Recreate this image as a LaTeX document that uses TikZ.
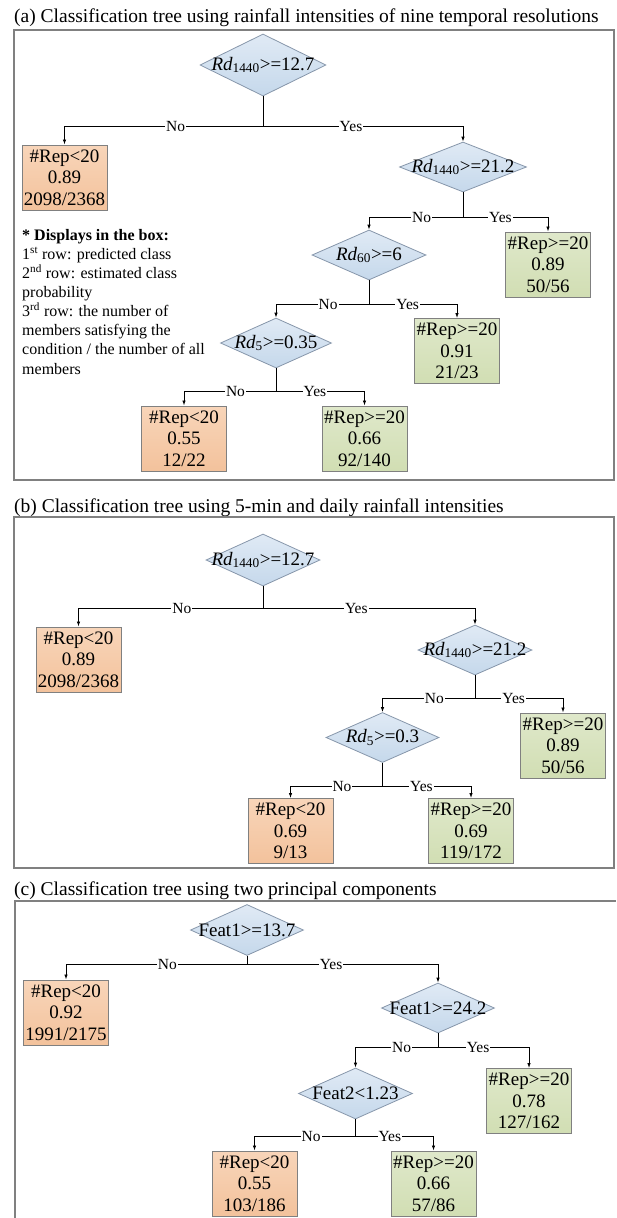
\documentclass[tikz,border=0pt]{standalone}
\usepackage{fontspec}
\setmainfont{Liberation Serif}
\usetikzlibrary{shapes.geometric,arrows.meta}

\definecolor{condtop}{HTML}{E0EAF5}
\definecolor{condbot}{HTML}{C5D8EB}
\definecolor{condline}{HTML}{8696AA}
\definecolor{lowtop}{HTML}{F8D5B9}
\definecolor{lowbot}{HTML}{F3C29C}
\definecolor{hightop}{HTML}{DFE8CA}
\definecolor{highbot}{HTML}{D1DEB3}
\definecolor{boxline}{HTML}{808080}

\begin{document}
\begin{tikzpicture}[x=1pt, y=-1pt,
			% Define styles for nodes
			cond/.style={diamond, aspect=2, draw=condline, line width=0.8pt, top color=condtop, bottom color=condbot,
					minimum width=#1, minimum height=50pt, inner sep=0pt, font=\fontsize{19}{21}\selectfont},
			leaf/.style={rectangle, draw=boxline, line width=1pt, minimum width=85pt, minimum height=65pt,
					inner sep=0pt, align=center, font=\fontsize{19}{21.5}\selectfont},
			low/.style={leaf, top color=lowtop, bottom color=lowbot},
			high/.style={leaf, top color=hightop, bottom color=highbot},
			frame/.style={draw=boxline, line width=1.3pt},
			title/.style={anchor=base west, inner sep=0pt, font=\fontsize{19.5}{22}\selectfont},
			stem/.style={draw, line width=1pt},
			branch/.style={draw, line width=0.8pt, -{Latex[length=5pt,width=3.5pt]}},
			lab/.style={fill=white, inner sep=1pt, pos=0.22, font=\fontsize{15.5}{17}\selectfont}
		]
		\useasboundingbox (0,0) rectangle (616,1218);

		% ---------- (a) ----------
		\node[title] (titleA) at (14,22.5) {(a) Classification tree using rainfall intensities of nine temporal resolutions};
		\draw[frame] (14,30) rectangle (614,480);

		% Root node
		\node[cond=126pt, minimum height=62pt] (rootA) at (263,65) {\makebox[0pt]{\textit{Rd}\textsubscript{1440}>=12.7}};
		% First level
		\node[low] (leafA1) at (64.5,177.5) {\#Rep<20\\0.89\\2098/2368};
		\node[cond=127pt] (splitA1) at (463,167) {\makebox[0pt]{\textit{Rd}\textsubscript{1440}>=21.2}};
		% Second level
		\node[cond=114pt] (splitA2) at (369,255) {\makebox[0pt]{\textit{Rd}\textsubscript{60}>=6}};
		\node[high] (leafA2) at (548,264.5) {\#Rep>=20\\0.89\\50/56};
		% Third level
		\node[cond=111pt] (splitA3) at (276,343) {\makebox[0pt]{\textit{Rd}\textsubscript{5}>=0.35}};
		\node[high] (leafA3) at (457,351) {\#Rep>=20\\0.91\\21/23};
		% Fourth level
		\node[low] (leafA4) at (184,438.5) {\#Rep<20\\0.55\\12/22};
		\node[high] (leafA5) at (364.5,438.5) {\#Rep>=20\\0.66\\92/140};

		% Legend
		\node[anchor=north west, inner sep=0pt, align=left, font=\fontsize{16}{19.1}\selectfont] (legendA) at (22,229)
		{\textbf{* Displays in the box:}\\
			1\textsuperscript{st} row: predicted class\\
			2\textsuperscript{nd} row: estimated class\\
			probability\\
			3\textsuperscript{rd} row: the number of\\
			members satisfying the\\
			condition / the number of all\\
			members};

		% Connectors
		\coordinate (jA0) at (263,126);
		\coordinate (jA1) at (463,217);
		\coordinate (jA2) at (369,304);
		\coordinate (jA3) at (276,391);
		\draw[stem] (rootA.south) -- (jA0);
		\draw[branch] (jA0) -| node[lab] {No} (leafA1.north);
		\draw[branch] (jA0) -| node[lab] {Yes} (splitA1.north);
		\draw[stem] (splitA1.south) -- (jA1);
		\draw[branch] (jA1) -| node[lab] {No} (splitA2.north);
		\draw[branch] (jA1) -| node[lab] {Yes} (leafA2.north);
		\draw[stem] (splitA2.south) -- (jA2);
		\draw[branch] (jA2) -| node[lab] {No} (splitA3.north);
		\draw[branch] (jA2) -| node[lab] {Yes} (leafA3.north);
		\draw[stem] (splitA3.south) -- (jA3);
		\draw[branch] (jA3) -| node[lab] {No} (leafA4.north);
		\draw[branch] (jA3) -| node[lab] {Yes} (leafA5.north);

		% ---------- (b) ----------
		\node[title] (titleB) at (14,512) {(b) Classification tree using 5-min and daily rainfall intensities};
		\draw[frame] (14,517) rectangle (614,868);

		% Root node
		\node[cond=114pt, minimum height=52pt] (rootB) at (263,560) {\makebox[0pt]{\textit{Rd}\textsubscript{1440}>=12.7}};
		% First level
		\node[low] (leafB1) at (78.5,659.5) {\#Rep<20\\0.89\\2098/2368};
		\node[cond=114pt] (splitB1) at (475,650) {\makebox[0pt]{\textit{Rd}\textsubscript{1440}>=21.2}};
		% Second level
		\node[cond=113pt] (splitB2) at (382.5,737.5) {\makebox[0pt]{\textit{Rd}\textsubscript{5}>=0.3}};
		\node[high] (leafB2) at (563,745.5) {\#Rep>=20\\0.89\\50/56};
		% Third level
		\node[low] (leafB3) at (290.5,831) {\#Rep<20\\0.69\\9/13};
		\node[high] (leafB4) at (471,831) {\#Rep>=20\\0.69\\119/172};

		% Connectors
		\coordinate (jB0) at (263,608);
		\coordinate (jB1) at (475,698);
		\coordinate (jB2) at (382.5,786);
		\draw[stem] (rootB.south) -- (jB0);
		\draw[branch] (jB0) -| node[lab] {No} (leafB1.north);
		\draw[branch] (jB0) -| node[lab] {Yes} (splitB1.north);
		\draw[stem] (splitB1.south) -- (jB1);
		\draw[branch] (jB1) -| node[lab] {No} (splitB2.north);
		\draw[branch] (jB1) -| node[lab] {Yes} (leafB2.north);
		\draw[stem] (splitB2.south) -- (jB2);
		\draw[branch] (jB2) -| node[lab] {No} (leafB3.north);
		\draw[branch] (jB2) -| node[lab] {Yes} (leafB4.north);

		% ---------- (c) ----------
		\node[title] (titleC) at (14,895) {(c) Classification tree using two principal components};
		\draw[frame] (15,1218) -- (15,901) -- (616,901);

		% Root node
		\node[cond=113pt, minimum height=51pt] (rootC) at (247,930) {\makebox[0pt]{Feat1>=13.7}};
		% First level
		\node[low] (leafC1) at (66,1012.5) {\#Rep<20\\0.92\\1991/2175};
		\node[cond=113pt] (splitC1) at (438,1008) {\makebox[0pt]{Feat1>=24.2}};
		% Second level
		\node[cond=114pt, minimum height=51pt] (splitC2) at (355.5,1093.5) {\makebox[0pt]{Feat2<1.23}};
		\node[high] (leafC2) at (529,1101) {\#Rep>=20\\0.78\\127/162};
		% Third level
		\node[low] (leafC3) at (254.5,1183.5) {\#Rep<20\\0.55\\103/186};
		\node[high] (leafC4) at (433.5,1183.5) {\#Rep>=20\\0.66\\57/86};

		% Connectors
		\coordinate (jC0) at (247,964);
		\coordinate (jC1) at (438,1047);
		\coordinate (jC2) at (355.5,1136);
		\draw[stem] (rootC.south) -- (jC0);
		\draw[branch] (jC0) -| node[lab] {No} (leafC1.north);
		\draw[branch] (jC0) -| node[lab] {Yes} (splitC1.north);
		\draw[stem] (splitC1.south) -- (jC1);
		\draw[branch] (jC1) -| node[lab] {No} (splitC2.north);
		\draw[branch] (jC1) -| node[lab] {Yes} (leafC2.north);
		\draw[stem] (splitC2.south) -- (jC2);
		\draw[branch] (jC2) -| node[lab] {No} (leafC3.north);
		\draw[branch] (jC2) -| node[lab] {Yes} (leafC4.north);
	\end{tikzpicture}
\end{document}
